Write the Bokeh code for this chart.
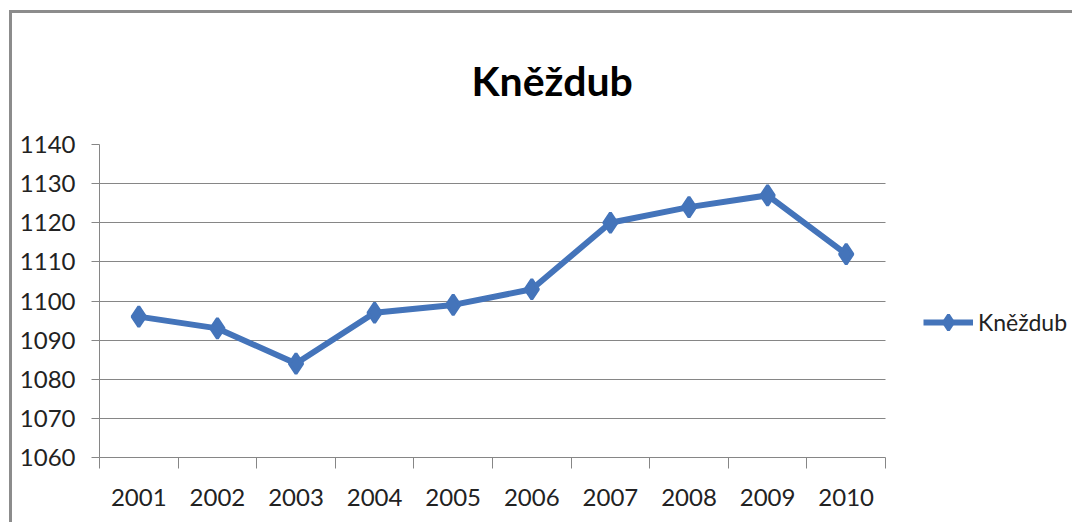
from bokeh.plotting import figure
from bokeh.models import (FixedTicker, Legend, LegendItem, BoxAnnotation,
                          ColumnDataSource, Range1d)
from bokeh.embed import file_html
from bokeh.resources import INLINE

# ---- data ----
years = ["2001", "2002", "2003", "2004", "2005", "2006", "2007", "2008", "2009", "2010"]
values = [1096, 1093, 1084, 1097, 1099, 1103, 1120, 1124, 1127, 1112]
y_ticks = [1060, 1070, 1080, 1090, 1100, 1110, 1120, 1130, 1140]
series_name = "Kněždub"
title_text = "Kněždub"

FONT = "Lato"
BLUE = "#4474BA"
GREY = "#868686"
TXT = "#222222"

# layout (pixels): plot area 786 px wide for the categories, the canvas
# continues to the right for the legend
W, H = 1063, 512
LEFT, TOP, BOTTOM = 87, 131, 68
CAT_W = 786
n = len(years)
x_end = 0.5 + n * (W - LEFT) / CAT_W

xpos = list(range(1, n + 1))
src = ColumnDataSource(dict(x=xpos, y=values))

p = figure(width=W, height=H, output_backend="svg", toolbar_location=None,
           x_range=Range1d(0.5, x_end),
           y_range=Range1d(y_ticks[0], y_ticks[-1]),
           min_border_left=LEFT, min_border_right=0, min_border_top=TOP,
           min_border_bottom=BOTTOM)
p.margin = (10, 0, 0, 9)
p.styles = {"border-left": "3px solid #8c8c8c", "border-top": "3px solid #8c8c8c"}
p.outline_line_color = None
p.background_fill_color = "white"
p.border_fill_color = "white"

# title
p.title.text = title_text
p.title.align = "left"
p.title.offset = 372
p.title.text_font = FONT
p.title.text_font_size = "41px"
p.title.text_font_style = "bold"
p.title.text_color = "#000000"
p.title.standoff = 79

# x axis: labels at category centres, ticks at boundaries
p.xaxis.bounds = (0.5, n + 0.5)
p.xaxis.ticker = FixedTicker(ticks=xpos, minor_ticks=[i + 0.5 for i in range(n + 1)])
p.xaxis.major_label_overrides = {x: y for x, y in zip(xpos, years)}
p.xaxis.major_tick_line_color = None
p.xaxis.major_tick_out = 0
p.xaxis.major_tick_in = 0
p.xaxis.minor_tick_out = 11
p.xaxis.minor_tick_in = 0
p.xaxis.minor_tick_line_color = GREY
p.xaxis.axis_line_color = GREY
p.xaxis.major_label_standoff = 20
p.xaxis.major_label_text_font = FONT
p.xaxis.major_label_text_font_size = "24px"
p.xaxis.major_label_text_color = TXT

# y axis
p.yaxis.ticker = FixedTicker(ticks=y_ticks)
p.yaxis.minor_tick_line_color = None
p.yaxis.major_tick_out = 8
p.yaxis.major_tick_in = 0
p.yaxis.major_tick_line_color = GREY
p.yaxis.axis_line_color = GREY
p.yaxis.major_label_standoff = 16
p.yaxis.major_label_text_font = FONT
p.yaxis.major_label_text_font_size = "24px"
p.yaxis.major_label_text_color = TXT

p.xgrid.grid_line_color = None
p.ygrid.ticker = FixedTicker(ticks=y_ticks)
p.ygrid.grid_line_color = GREY
p.ygrid.grid_line_width = 1

# white mask: gridlines end at the right edge of the plot area
p.add_layout(BoxAnnotation(left=n + 0.5, fill_color="white", fill_alpha=1.0,
                           line_color=None, level="underlay"))

lr = p.line("x", "y", source=src, line_color=BLUE, line_width=6)
sr = p.scatter("x", "y", source=src, marker="diamond", size=20,
               fill_color=BLUE, line_color=BLUE, line_width=3)

legend = Legend(items=[LegendItem(label=series_name, renderers=[lr, sr])],
                location=(824, 116), glyph_width=50, glyph_height=38,
                label_standoff=5, padding=0, margin=0, spacing=0,
                border_line_color=None, background_fill_alpha=0,
                label_text_font=FONT, label_text_font_size="23px",
                label_text_color=TXT)
p.add_layout(legend, "center")

open("out.html", "w").write(file_html(p, INLINE))
